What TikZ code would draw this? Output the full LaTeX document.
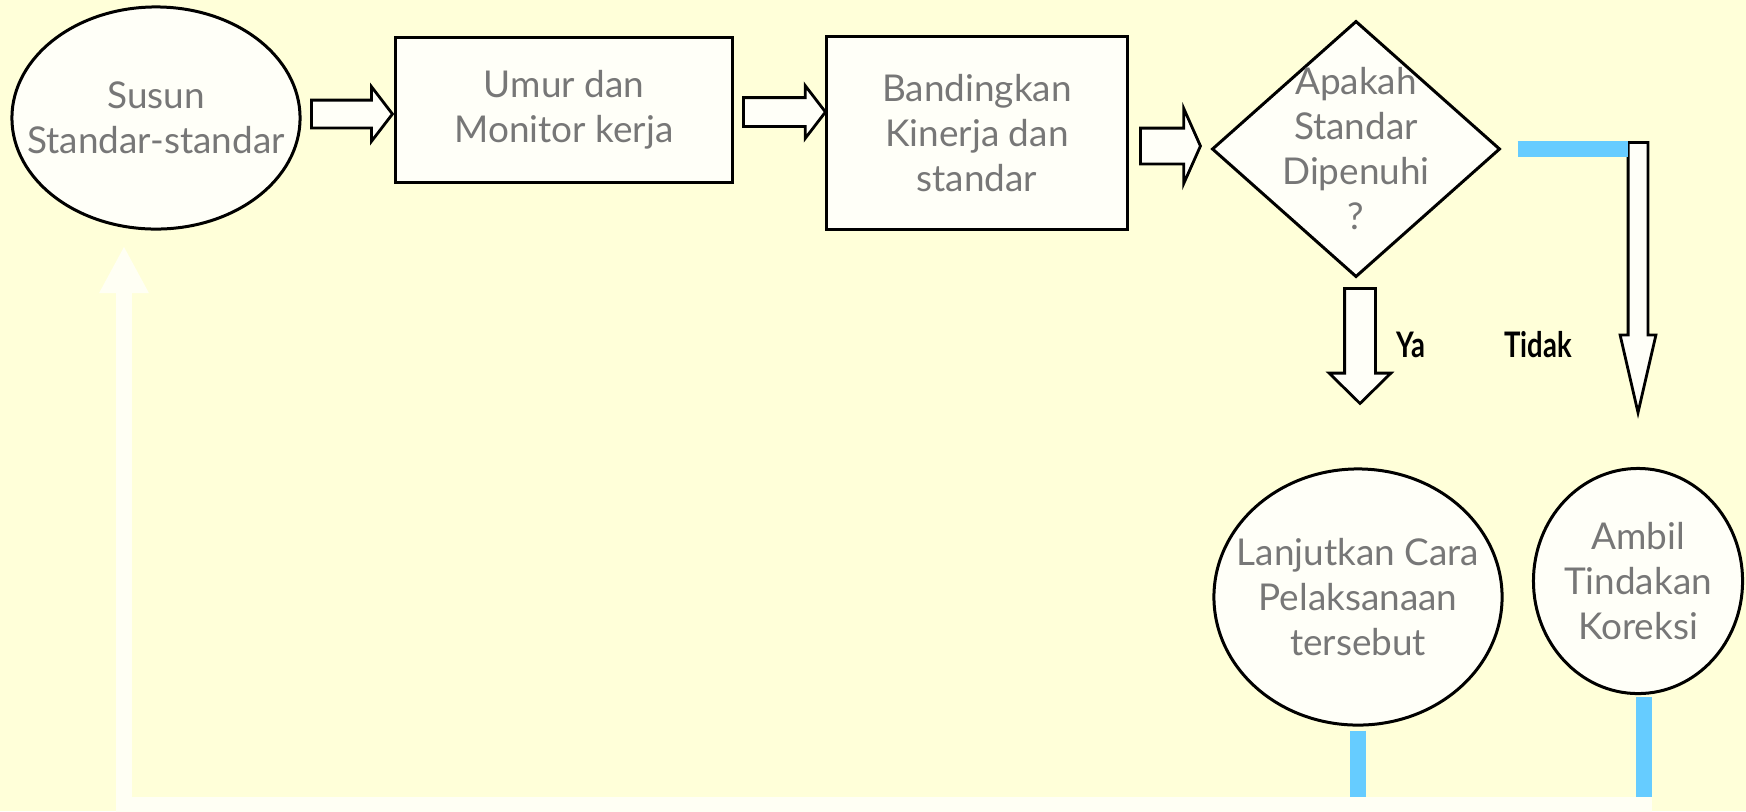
\documentclass[tikz,border=0pt]{standalone}
\usepackage{fontspec}
\setmainfont{Lato}
\newfontfamily\answerfont[FakeStretch=0.78]{Lato}
\usetikzlibrary{shapes.geometric,shapes.arrows,arrows.meta}

\definecolor{pagebg}{HTML}{FFFFD9}
\definecolor{shapefill}{HTML}{FFFFF8}
\definecolor{textgrey}{HTML}{777777}
\definecolor{barblue}{HTML}{66CCFF}
\definecolor{backwhite}{HTML}{FFFFF4}
\newcommand{\shapefont}{\fontsize{10.5}{12.8}\selectfont}

\tikzset{
  outline/.style={draw, line width=0.3mm, fill=shapefill},
  stepbox/.style={outline, rectangle, inner sep=0pt, text=textgrey, align=center, font=\shapefont},
  oval/.style={outline, ellipse, inner sep=0pt},
  decision/.style={outline, diamond, inner sep=0pt},
  intext/.style={text=textgrey, align=center, font=\shapefont},
  fatarrow/.style={outline, single arrow, inner xsep=0pt, line width=0.28mm, anchor=tail},
  bluebar/.style={barblue, line width=1.6mm},
  backline/.style={backwhite, line width=1.6mm, line join=miter, -{Triangle[width=4.6mm,length=4.7mm]}},
  answer/.style={font=\answerfont\bfseries\fontsize{10}{12}\selectfont}
}

\begin{document}
\begin{tikzpicture}[x=0.01cm, y=-0.01cm]
  \fill[pagebg] (0,0) rectangle (1746,811);
  \useasboundingbox (0,0) rectangle (1746,811);

  % alur utama
  \node[oval, minimum width=28.8mm, minimum height=22.2mm,
        label={[intext]center:{Susun\\Standar-standar}}] (susun) at (156,118) {};
  \node[stepbox, minimum width=33.6mm, minimum height=14.5mm] (umur) at (564,110) {Umur dan\\Monitor kerja};
  \node[stepbox, minimum width=30mm, minimum height=19.2mm] (banding) at (977,133) {Bandingkan\\Kinerja dan\\standar};
  \node[decision, minimum width=28.8mm, minimum height=25.6mm,
        label={[intext]center:{Apakah\\Standar\\Dipenuhi\\?}}] (cek) at (1356,149) {};
  \node[oval, minimum width=28.8mm, minimum height=25.6mm,
        label={[intext]center:{Lanjutkan Cara\\Pelaksanaan\\tersebut}}] (lanjut) at (1358,597) {};
  \node[oval, minimum width=20.9mm, minimum height=22.5mm,
        label={[intext]center:{Ambil\\Tindakan\\Koreksi}}] (ambil) at (1638,581) {};

  % panah blok
  \node[fatarrow, inner ysep=1.25mm, minimum height=8.1mm,
        single arrow head extend=1.35mm, single arrow tip angle=105] (p1) at (310,114) {};
  \node[fatarrow, inner ysep=1.3mm, minimum height=8.2mm,
        single arrow head extend=1.2mm, single arrow tip angle=105] (p2) at (742,112) {};
  \node[fatarrow, inner ysep=1.65mm, minimum height=6mm,
        single arrow head extend=1.95mm, single arrow tip angle=132] (p3) at (1139,146) {};
  \node[fatarrow, rotate=-90, inner ysep=1.4mm, minimum height=11.5mm,
        single arrow head extend=1.55mm, single arrow tip angle=91] (pya) at (1360,287) {};
  \node[fatarrow, rotate=-90, inner ysep=0.85mm, minimum height=27mm,
        single arrow head extend=0.8mm, single arrow tip angle=26] (ptidak) at (1638,141) {};

  \node[answer] (ya) at (1411,345) {Ya};
  \node[answer] (tidak) at (1538,345) {Tidak};

  % garis biru dan jalur kembali
  \coordinate (loopcorner) at (124,805);
  \coordinate (loopend) at (1652,805);
  \coordinate (backtip) at (124,246);
  \coordinate (lanjutfoot) at ([yshift=-0.4mm]lanjut.south);
  \coordinate (ambilfoot) at ([xshift=0.6mm,yshift=-0.2mm]ambil.south);
  \draw[bluebar] ([xshift=1.6mm]cek.east) -- ([xshift=-1mm]ptidak.tail |- cek.east);
  \draw[bluebar] (lanjutfoot) -- (lanjutfoot |- loopcorner);
  \draw[bluebar] (ambilfoot) -- (ambilfoot |- loopcorner);
  \draw[backline] (loopend) -- (loopcorner) -- (backtip);
\end{tikzpicture}
\end{document}
